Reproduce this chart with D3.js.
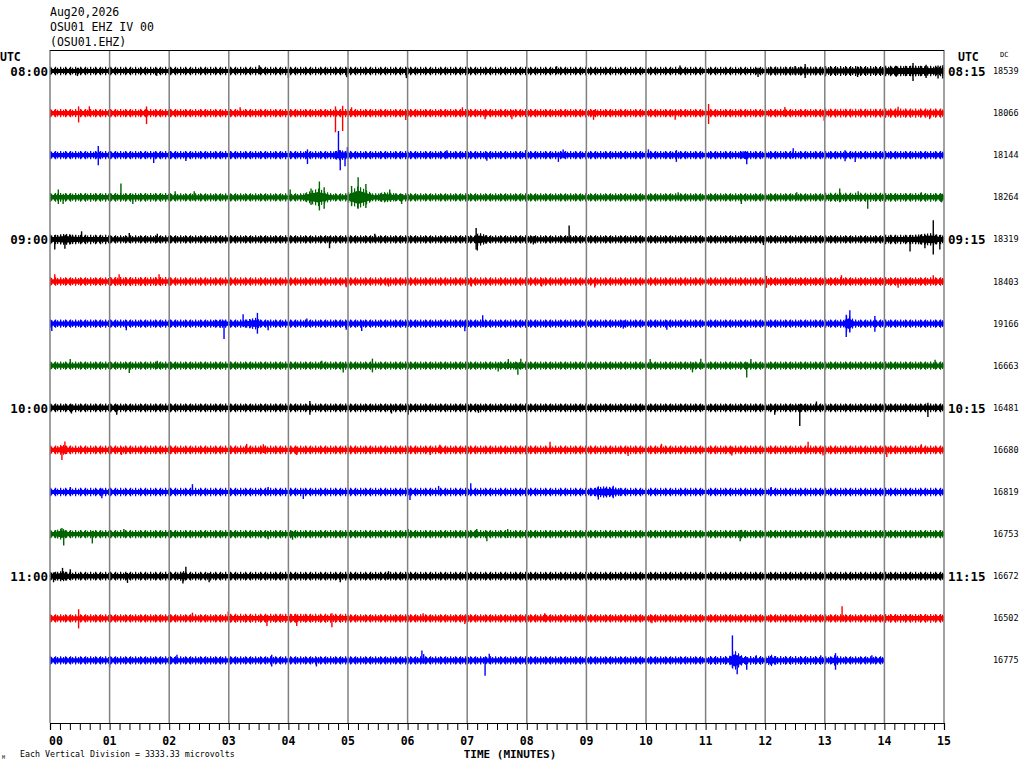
<!DOCTYPE html>
<html>
<head>
<meta charset="utf-8">
<script src="https://cdn.jsdelivr.net/npm/d3@7"></script>
<style>
  body { margin: 0; background: #fff; }
  svg { display: block; }
  text { font-family: "DejaVu Sans Mono", monospace; fill: #000; }
</style>
</head>
<body>
<div id="chart"></div>
<script>
// header text
const headerLines = ['Aug20,2026', 'OSU01 EHZ IV 00', '(OSU01.EHZ)'];

// row labels (one row = 15 minutes, a label every 4 rows)
const leftTimes = ['08:00', '09:00', '10:00', '11:00'];
const rightTimes = ['08:15', '09:15', '10:15', '11:15'];
const dcValues = [18539, 18066, 18144, 18264, 18319, 18403, 19166, 16663,
                  16481, 16680, 16819, 16753, 16672, 16502, 16775];
const minuteLabels = ['00','01','02','03','04','05','06','07','08','09','10','11','12','13','14','15'];

// background noise half-width per minute, microvolts (last row stops at 14 min)
const noiseLevels = [
  [220,220,220,220,220,220,220,220,220,220,220,220,240,260,280],
  [220,220,220,220,220,220,220,220,220,220,220,220,220,230,240],
  [220,220,220,220,220,220,220,220,220,220,220,220,220,220,220],
  [230,230,220,220,220,220,220,220,220,220,220,220,220,240,230],
  [250,220,220,220,220,220,220,220,220,220,220,220,220,220,250],
  [230,240,220,220,220,220,220,220,220,220,220,220,230,230,230],
  [220,220,220,220,220,220,220,220,220,220,220,220,220,220,220],
  [220,220,220,220,220,220,220,220,220,220,220,220,220,220,220],
  [230,230,230,230,230,230,230,230,230,230,230,230,230,230,230],
  [230,230,230,230,230,230,230,230,230,230,230,230,230,230,230],
  [220,220,220,220,220,220,220,220,220,220,220,220,220,220,220],
  [220,220,220,220,220,220,220,220,220,220,220,220,220,220,220],
  [230,230,230,230,230,230,230,230,230,230,230,230,230,230,230],
  [220,220,220,240,240,220,220,220,220,220,220,220,220,220,230],
  [220,220,220,220,220,220,220,220,220,220,220,230,230,220]
];

// stretches of stronger shaking: [start min, peak min, end min, peak half-width uV]
const bursts = [
  [[12.4,12.6,12.8,340],[13.9,14.5,15,420]],
  [],
  [[4.7,4.87,5.05,420],[10.3,10.5,10.6,280],[11.55,11.7,11.8,320]],
  [[4.2,4.5,4.75,700],[4.95,5.17,5.45,900],[5.45,5.6,5.95,420]],
  [[0,0.25,0.6,450],[7.1,7.2,7.4,520],[14.3,14.8,14.98,500]],
  [],
  [[2.65,2.9,2.98,320],[3.2,3.45,3.55,460],[13.3,13.4,13.5,700]],
  [[7.5,7.8,7.95,300]],
  [[12.4,12.58,12.75,320]],
  [[0.1,0.2,0.35,420]],
  [[0.75,0.9,1.0,280],[9.0,9.3,9.7,460]],
  [[0.05,0.2,0.3,460],[11.5,11.6,11.7,340]],
  [[0,0.2,0.4,420],[2.1,2.25,2.3,420]],
  [[3.5,4.1,4.7,320]],
  [[11.38,11.48,11.66,800],[12.0,12.1,12.2,460],[13.1,13.18,13.25,460]]
];

// single peaks: [minute, up uV, down uV]
const spikes = [
  [[0.46,250,400],[1.79,250,380],[3.51,460,250],[4.0,250,540],[4.98,250,500],[5.98,250,560],
   [8.5,380,250],[10.57,440,250],[11.88,250,480],[12.5,400,300],[12.67,560,560],[13.0,400,460],
   [13.55,360,480],[14.2,400,450],[14.48,640,800],[14.7,500,560],[14.9,440,600],[14.98,450,600]],
  [[0.48,530,740],[0.66,540,250],[1.62,530,860],[3.19,460,250],[4.79,530,1520],[4.91,580,1420],
   [5.06,460,250],[5.97,250,540],[6.92,460,250],[7.3,250,480],[7.75,250,480],[9.12,250,530],
   [10.49,250,530],[11.05,720,860],[12.33,480,250],[12.99,250,610],[14.23,500,250],[14.76,250,480]],
  [[0.81,720,800],[1.74,250,610],[2.28,250,450],[4.32,460,700],[4.84,1920,250],[4.87,400,1200],
   [4.95,300,880],[4.99,640,250],[6.66,400,250],[7.33,250,430],[7.98,400,250],[8.53,250,530],
   [8.61,460,250],[10.04,460,250],[10.51,400,530],[11.63,320,250],[11.69,250,720],[12.47,560,250],
   [13.34,400,480],[13.51,250,530]],
  [[0.14,620,530],[0.22,250,530],[1.19,1100,250],[1.39,250,530],[2.1,480,250],[2.42,480,250],
   [4.03,620,250],[4.38,700,600],[4.52,1250,1040],[4.6,800,900],[5.06,900,700],[5.17,1580,900],
   [5.3,1050,850],[5.7,620,250],[5.9,250,530],[10.54,400,250],[11.6,250,530],[12.53,400,250],
   [13.25,700,400],[13.56,480,250],[13.72,250,900],[14.62,400,250],[14.96,250,400]],
  [[0.08,300,800],[0.25,300,750],[0.53,640,300],[1.33,500,250],[1.8,450,250],[4.69,250,700],
   [5.45,450,250],[7.15,900,800],[7.17,300,880],[8.11,250,400],[8.71,1100,250],[11.97,250,450],
   [14.43,300,960],[14.68,300,700],[14.82,1520,1200],[14.93,300,800]],
  [[0.08,580,250],[1.16,580,250],[1.83,580,250],[4.97,250,450],[5.68,250,400],[7.07,250,400],
   [8.25,250,400],[9.14,250,480],[12.02,450,500],[13.28,500,250],[14.23,250,500],[14.82,500,250]],
  [[0.03,250,580],[1.28,250,530],[2.92,250,1220],[3.24,740,250],[3.48,850,800],[3.66,250,530],
   [4.31,400,250],[4.97,250,480],[5.23,250,580],[6.96,250,610],[7.26,660,250],[9.62,250,400],
   [10.35,250,480],[13.36,700,1060],[13.42,1060,700],[13.84,600,640]],
  [[0.34,530,250],[1.33,250,580],[1.8,400,250],[4.56,400,250],[4.92,250,530],[5.41,560,530],
   [7.52,250,450],[7.69,530,250],[7.85,250,720],[7.9,560,250],[10.07,530,250],[10.78,250,530],
   [10.92,560,250],[11.69,250,930],[11.76,530,250],[14.85,480,250]],
  [[0.36,250,450],[1.12,250,560],[4.36,530,560],[5.73,250,450],[6.01,250,560],[7.19,250,400],
   [12.16,250,560],[12.58,250,1440],[12.86,500,250],[14.73,400,720]],
  [[0.2,300,800],[0.25,660,300],[1.2,250,400],[3.3,480,250],[3.58,450,250],[4.14,250,400],
   [6.38,250,400],[6.54,400,250],[8.39,640,250],[9.7,250,480],[10.26,480,250],[11.44,250,450],
   [12.72,640,250],[12.97,250,450],[14.04,250,560],[14.62,450,250]],
  [[0.34,400,250],[0.87,250,500],[2.39,620,250],[3.66,400,250],[4.25,250,560],[6.04,250,640],
   [6.52,480,250],[7.06,700,250],[9.2,450,600],[9.45,500,500],[12.1,400,250]],
  [[0.2,480,300],[0.23,300,900],[0.71,250,740],[1.24,400,250],[3.66,250,400],[4.07,250,450],
   [6.01,400,250],[7.16,400,250],[7.33,250,560],[7.68,400,300],[11.58,300,560]],
  [[0.06,300,480],[0.21,660,300],[0.34,560,300],[1.3,250,530],[2.23,300,580],[2.28,740,300],
   [2.67,250,480],[4.87,250,480],[5.68,400,250]],
  [[0.48,720,800],[2.39,450,250],[2.99,530,250],[3.64,250,610],[4.14,250,610],[4.73,400,700],
   [6.26,400,250],[6.96,250,450],[8.3,400,250],[10.1,250,400],[13.29,960,250]],
  [[1.0,250,560],[2.13,450,250],[3.72,450,480],[4.47,250,480],[6.24,780,250],[6.27,500,250],
   [7.3,250,1220],[7.37,530,250],[11.45,1980,600],[11.53,400,1100],[11.69,250,740],[11.85,400,250],
   [12.93,400,250],[13.18,580,740],[13.79,400,250]]
];

const traceColors = ['#000000', '#ff0000', '#0000ff', '#006400'];

const W = 1024, H = 768;
const plotLeft = 50, plotRight = 944, plotTop = 50, plotBottom = 723;

const svg = d3.select('#chart').append('svg')
  .attr('width', W).attr('height', H);

// comb fill used for the ragged edge of each trace
const defs = svg.append('defs');
traceColors.forEach((c, k) => {
  const p = defs.append('pattern')
    .attr('id', `comb${k}`)
    .attr('patternUnits', 'userSpaceOnUse')
    .attr('width', 3).attr('height', 8);
  p.append('rect').attr('width', 1.2).attr('height', 8).attr('fill', c);
  const q = defs.append('pattern')
    .attr('id', `combw${k}`)
    .attr('patternUnits', 'userSpaceOnUse')
    .attr('width', 5).attr('height', 8);
  q.append('rect').attr('width', 1.2).attr('height', 8).attr('fill', c);
});

const x = d3.scaleLinear().domain([0, 15]).range([plotLeft, plotRight]);
const row = d3.scaleLinear().domain([0, 15]).range([71, 702.5]);
const amp = d3.scaleLinear().domain([0, 3333.33]).range([0, row(1) - row(0)]);

// traces
const traces = svg.append('g');
noiseLevels.forEach((levels, i) => {
  const y0 = row(i);
  const k = i % 4;
  const color = traceColors[k];
  const g = traces.append('g');

  const band = (s) => d3.area()
    .x(d => x(d.t))
    .y0(d => y0 - amp(d.v) * s)
    .y1(d => y0 + amp(d.v) * s);

  const pts = levels.map((v, m) => ({ t: m, v }));
  pts.push({ t: levels.length, v: levels[levels.length - 1] });
  const end = x(levels.length);

  g.append('path')
    .attr('d', band(1.5).curve(d3.curveStepAfter)(pts))
    .attr('fill', `url(#combw${k})`);
  g.append('path')
    .attr('d', band(1.2).curve(d3.curveStepAfter)(pts))
    .attr('fill', `url(#comb${k})`);
  g.append('path')
    .attr('d', band(0.75).curve(d3.curveStepAfter)(pts))
    .attr('fill', color);

  const spindle = (d, s) => band(s).curve(d3.curveLinear)([
    { t: d[0], v: levels[Math.min(Math.floor(d[0]), levels.length - 1)] },
    { t: d[1], v: d[3] },
    { t: d[2], v: levels[Math.min(Math.floor(d[2]), levels.length - 1)] }
  ]);
  g.selectAll('path.burst')
    .data(bursts[i])
    .enter().append('path')
    .attr('class', 'burst')
    .attr('d', d => spindle(d, 1))
    .attr('fill', `url(#comb${k})`);
  g.selectAll('path.burstcore')
    .data(bursts[i])
    .enter().append('path')
    .attr('class', 'burstcore')
    .attr('d', d => spindle(d, 0.6))
    .attr('fill', color);

  g.selectAll('line.spike')
    .data(spikes[i])
    .enter().append('line')
    .attr('class', 'spike')
    .attr('x1', d => x(d[0])).attr('x2', d => x(d[0]))
    .attr('y1', d => y0 - amp(d[1]))
    .attr('y2', d => y0 + amp(d[2]))
    .attr('stroke', color)
    .attr('stroke-width', 1.4);
});

// minute grid
svg.append('g').selectAll('line')
  .data(d3.range(0, 16))
  .enter().append('line')
  .attr('x1', d => x(d)).attr('x2', d => x(d))
  .attr('y1', plotTop).attr('y2', plotBottom)
  .attr('stroke', '#808080').attr('stroke-width', 1.5);

svg.append('line')
  .attr('x1', plotLeft).attr('x2', plotRight)
  .attr('y1', plotTop + 0.5).attr('y2', plotTop + 0.5)
  .attr('stroke', '#000').attr('stroke-width', 1);

// bottom axis with 10 s minor ticks
const axis = d3.axisBottom(x)
  .tickValues(d3.range(0, 15.01, 1 / 6))
  .tickSize(7)
  .tickFormat('');
const axisG = svg.append('g').attr('transform', `translate(0,${plotBottom})`).call(axis);
axisG.select('.domain').attr('stroke', '#000').attr('stroke-width', 1.2);
axisG.selectAll('.tick line').attr('stroke', '#000').attr('stroke-width', 1);

svg.append('g').selectAll('text')
  .data(minuteLabels)
  .enter().append('text')
  .attr('x', (d, i) => i === 0 ? x(0) + 6 : x(i))
  .attr('y', 745)
  .attr('text-anchor', 'middle')
  .style('font-size', '11.5px').style('font-weight', 'bold')
  .text(d => d);

svg.append('text')
  .attr('x', 510).attr('y', 758)
  .attr('text-anchor', 'middle')
  .style('font-size', '11px').style('font-weight', 'bold')
  .text('TIME (MINUTES)');

svg.append('text')
  .attr('x', 20).attr('y', 757)
  .style('font-size', '8.3px')
  .text('Each Vertical Division = 3333.33 microvolts');

svg.append('text')
  .attr('x', 2).attr('y', 759)
  .style('font-size', '5px')
  .text('M');

// header
svg.append('g').selectAll('text')
  .data(headerLines)
  .enter().append('text')
  .attr('x', 50)
  .attr('y', (d, i) => 16 + i * 15)
  .style('font-size', '11.5px')
  .text(d => d);

// UTC labels
svg.append('text').attr('x', 0).attr('y', 61)
  .style('font-size', '11.5px').style('font-weight', 'bold').text('UTC');
svg.append('text').attr('x', 958).attr('y', 61)
  .style('font-size', '11.5px').style('font-weight', 'bold').text('UTC');
svg.append('text').attr('x', 1000).attr('y', 57)
  .style('font-size', '7px').text('DC');

svg.append('g').selectAll('text')
  .data(leftTimes)
  .enter().append('text')
  .attr('x', 48)
  .attr('y', (d, i) => row(i * 4) + 5)
  .attr('text-anchor', 'end')
  .style('font-size', '12.5px').style('font-weight', 'bold')
  .text(d => d);

svg.append('g').selectAll('text')
  .data(rightTimes)
  .enter().append('text')
  .attr('x', 948)
  .attr('y', (d, i) => row(i * 4) + 5)
  .style('font-size', '12.5px').style('font-weight', 'bold')
  .text(d => d);

svg.append('g').selectAll('text')
  .data(dcValues)
  .enter().append('text')
  .attr('x', 993)
  .attr('y', (d, i) => row(i) + 3)
  .style('font-size', '8.5px')
  .text(d => d);
</script>
</body>
</html>
